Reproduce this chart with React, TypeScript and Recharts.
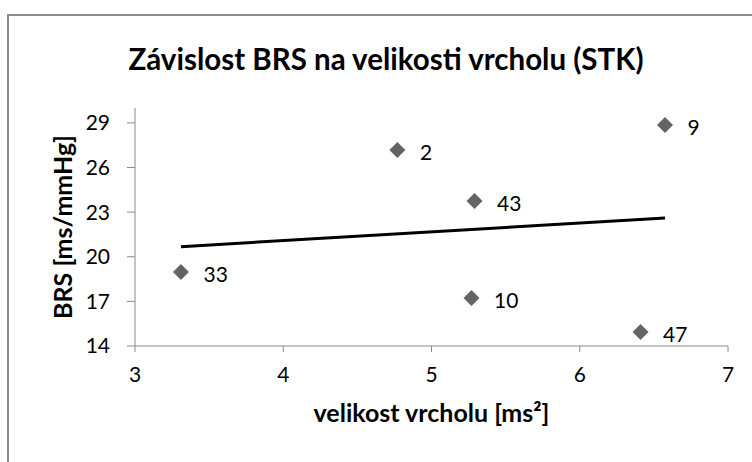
import * as React from 'react';
import { ScatterChart, Scatter, XAxis, YAxis, LabelList, Label } from 'recharts';

const peakSize = [3.31, 4.77, 5.29, 5.27, 6.575, 6.41];
const brsValues = [18.98, 27.18, 23.75, 17.23, 28.86, 14.94];
const subjectIds = ['33', '2', '43', '10', '9', '47'];
const trendX = [3.31, 6.575];
const trendY = [20.68, 22.6];
const xTicks = [3, 4, 5, 6, 7];
const yTicks = [14, 17, 20, 23, 26, 29];

const points = peakSize.map((x, i) => ({ x, y: brsValues[i], id: subjectIds[i] }));
const trend = trendX.map((x, i) => ({ x, y: trendY[i] }));

const FONT = 'Lato, "Noto Sans", sans-serif';
const AXIS = '#8a8a8a';

function Diamond(props: any) {
  const { cx, cy } = props;
  const r = 8;
  return (
    <path
      d={`M${cx},${cy - r}L${cx + r},${cy}L${cx},${cy + r}L${cx - r},${cy}Z`}
      fill='#646464'
    />
  );
}

export default function App() {
  return (
    <div style={{ position: 'fixed', left: 0, top: 0, width: 752, height: 462, background: '#fff', overflow: 'hidden' }}>
      <div
        style={{
          position: 'absolute',
          left: 7,
          top: 14,
          width: 800,
          height: 500,
          borderTop: '2px solid #8c8c8c',
          borderLeft: '2px solid #8c8c8c',
        }}
      />
      <div
        style={{
          position: 'absolute',
          left: 0,
          top: 41,
          width: 772,
          textAlign: 'center',
          fontFamily: FONT,
          fontWeight: 700,
          fontSize: 29.5,
          color: '#000',
        }}
      >
        Závislost BRS na velikosti vrcholu (STK)
      </div>
      <div style={{ position: 'absolute', left: 0, top: 0 }}>
        <ScatterChart width={752} height={462} margin={{ top: 108, right: 24, bottom: 0, left: 75 }}>
          <XAxis
            type='number'
            dataKey='x'
            domain={[3, 7]}
            ticks={xTicks}
            interval={0}
            tickSize={6}
            tickMargin={15}
            stroke={AXIS}
            tick={{ fill: '#000', fontSize: 21, fontFamily: FONT }}
            height={116}
          >
            <Label
              value='velikost vrcholu [ms²]'
              position='insideTop'
              offset={58}
              style={{ fill: '#000', fontSize: 25, fontWeight: 700, fontFamily: FONT }}
            />
          </XAxis>
          <YAxis
            type='number'
            dataKey='y'
            domain={[14, 30]}
            ticks={yTicks}
            interval={0}
            tickSize={8}
            tickMargin={17}
            stroke={AXIS}
            tick={{ fill: '#000', fontSize: 21, fontFamily: FONT }}
            width={60}
          >
            <Label
              value='BRS [ms/mmHg]'
              angle={-90}
              position='insideLeft'
              offset={-12}
              style={{ fill: '#000', fontSize: 25, fontWeight: 700, fontFamily: FONT, textAnchor: 'middle' }}
            />
          </YAxis>
          <Scatter data={points} shape={Diamond} isAnimationActive={false}>
            <LabelList
              dataKey='id'
              position='right'
              offset={18}
              dy={3}
              style={{ fill: '#000', fontSize: 21, fontFamily: FONT }}
            />
          </Scatter>
          <Scatter
            data={trend}
            line={{ stroke: '#000', strokeWidth: 3 }}
            shape={() => <g />}
            isAnimationActive={false}
          />
        </ScatterChart>
      </div>
    </div>
  );
}
